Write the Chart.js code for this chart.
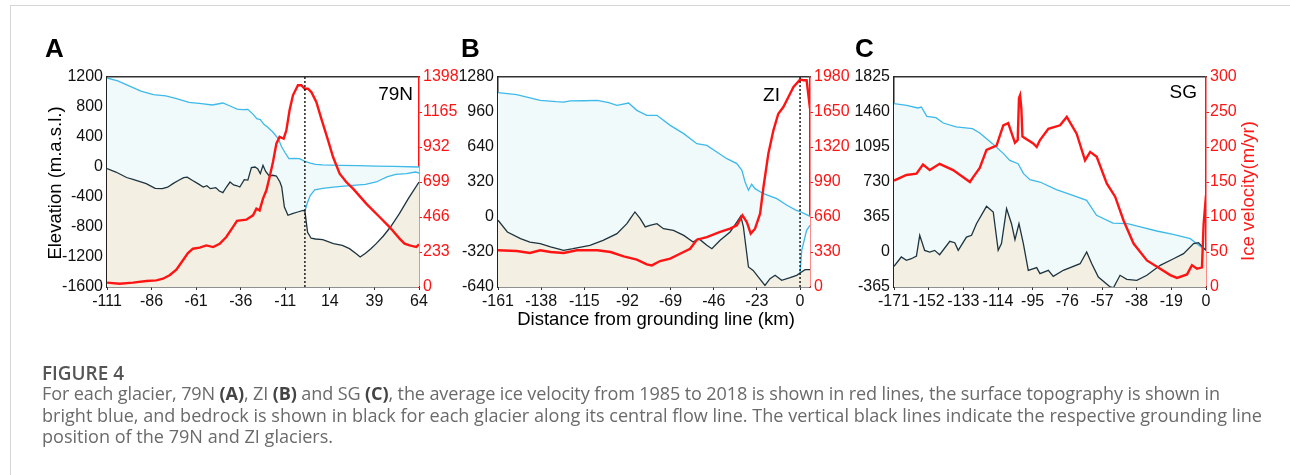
<!DOCTYPE html>
<html><head><meta charset="utf-8">
<script src="https://cdn.jsdelivr.net/npm/chart.js@4.4.1/dist/chart.umd.min.js"></script>
<style>
html,body{margin:0;padding:0;background:#fff;width:1290px;height:475px;overflow:hidden}
#frame{position:absolute;left:10px;top:5px;width:1300px;height:480px;border-top:1px solid #d6d6d6;border-left:1px solid #d6d6d6}
canvas{position:absolute;left:0;top:0}
svg{position:absolute;left:0;top:0}
</style></head><body>
<div id="frame"></div>
<canvas id="cA" width="1290" height="340"></canvas>
<canvas id="cB" width="1290" height="340"></canvas>
<canvas id="cC" width="1290" height="340"></canvas>
<svg width="1290" height="475" xmlns="http://www.w3.org/2000/svg">
  <g font-family="Liberation Sans, Arial, sans-serif" fill="#000">
    <text x="45" y="57" font-size="26" font-weight="bold">A</text>
    <text x="461" y="57" font-size="26" font-weight="bold">B</text>
    <text x="855" y="57" font-size="26" font-weight="bold">C</text>
    <text x="413" y="100" font-size="19" text-anchor="end">79N</text>
    <text x="780" y="101" font-size="19" text-anchor="end">ZI</text>
    <text x="1197" y="98" font-size="19" text-anchor="end">SG</text>
    <text transform="translate(61,183) rotate(-90)" font-size="18.5" text-anchor="middle">Elevation (m.a.s.l.)</text>
    <text x="656" y="325" font-size="18.5" text-anchor="middle">Distance from grounding line (km)</text>
    <text transform="translate(1254,191) rotate(-90)" font-size="18.5" text-anchor="middle" fill="#ff1a1a">Ice velocity(m/yr)</text>
  </g>
  <g font-family="Open Sans, sans-serif">
    <text id="fig" x="42" y="380" font-size="15" font-weight="600" fill="#555">FIGURE 4</text>
    <text class="cap" id="l1" x="42" y="400" font-size="15" fill="#6a6a6a">For each glacier, 79N <tspan font-weight="bold" fill="#444">(A)</tspan>, ZI <tspan font-weight="bold" fill="#444">(B)</tspan> and SG <tspan font-weight="bold" fill="#444">(C)</tspan>, the average ice velocity from 1985 to 2018 is shown in red lines, the surface topography is shown in</text>
    <text class="cap" id="l2" x="42" y="422" font-size="15" fill="#6a6a6a">bright blue, and bedrock is shown in black for each glacier along its central flow line. The vertical black lines indicate the respective grounding line</text>
    <text class="cap" id="l3" x="42" y="443" font-size="15" fill="#6a6a6a">position of the 79N and ZI glaciers.</text>
  </g>
</svg>
<script>
// ---------------- DATA ----------------
// Panel A (79N)
const aXTicks = [-111, -86, -61, -36, -11, 14, 39, 64];
const aYLTicks = [-1600, -1200, -800, -400, 0, 400, 800, 1200];
const aYRTicks = [0, 233, 466, 699, 932, 1165, 1398];
const aSurfKm = [-111, -105, -98, -92, -85, -78, -72, -65, -58, -52, -46, -42, -38, -35, -32, -29, -27, -25, -23, -21, -18, -15, -13, -11, -9, -6, -3, 0, 3, 6, 10, 20, 30, 40, 50, 64];
const aSurfElev = [1187, 1147, 1076, 1013, 964, 947, 911, 862, 844, 827, 853, 813, 773, 764, 769, 702, 644, 631, 569, 533, 467, 378, 267, 187, 111, 116, 111, 76, 53, 36, 27, 22, 18, 13, 9, 0];
const aBaseKm = [0, 1.5, 3, 5.5, 10, 16, 22, 27, 34, 40, 46, 51, 57, 62, 64];
const aBaseElev = [-590, -470, -380, -305, -285, -267, -255, -244, -231, -200, -133, -98, -89, -67, -80];
const aBedKm = [-111, -106, -100, -96, -89, -84, -80, -77, -74, -71, -68, -66, -63, -60, -57, -55, -53, -50, -48, -46, -44, -42, -40, -38, -36.5, -34, -32, -30, -28, -26.5, -25, -23.5, -22, -20, -18, -16, -14, -13, -11.5, -9.5, -7, -4, -1, 0, 1.5, 3.5, 6, 10, 16, 21, 25, 29, 31, 34, 37, 40, 44, 48, 53, 58, 64];
const aBedElev = [-22, -67, -140, -169, -222, -285, -289, -270, -222, -180, -142, -135, -180, -222, -267, -250, -289, -275, -320, -342, -267, -200, -240, -250, -267, -169, -175, -9, 0, -22, -89, 22, -60, -120, -110, -120, -200, -267, -533, -644, -622, -600, -578, -590, -870, -950, -960, -969, -1022, -1044, -1089, -1160, -1200, -1150, -1090, -1022, -920, -800, -622, -422, -200];
const aVelKm = [-111, -103.9, -96.4, -88.9, -83.3, -79.6, -75.9, -72.1, -68.4, -65.6, -62.8, -59, -55.3, -51.5, -47.8, -44.1, -40.3, -38.1, -32.9, -29.1, -27.2, -25.4, -23.5, -21.6, -19.8, -17.9, -16, -14.2, -11.9, -10.4, -8.6, -6.7, -3.9, -2, -0.1, 1.7, 3.6, 6.4, 9.2, 13, 15.8, 19.5, 23.2, 27, 34.4, 41.9, 47.5, 53.1, 55.9, 58.8, 62.5, 64];
const aVel = [29, 22, 29, 40, 44, 55, 78, 115, 178, 226, 255, 262, 277, 266, 288, 333, 400, 440, 448, 477, 521, 510, 588, 644, 732, 832, 954, 999, 987, 1043, 1176, 1276, 1343, 1343, 1320, 1320, 1298, 1232, 1121, 976, 865, 754, 699, 655, 555, 466, 399, 322, 289, 277, 266, 284];

// Panel B (ZI)
const bXTicks = [-161, -138, -115, -92, -69, -46, -23, 0];
const bYLTicks = [-640, -320, 0, 320, 640, 960, 1280];
const bYRTicks = [0, 330, 660, 990, 1320, 1650, 1980];
const bSurfKm = [-161, -151, -138.5, -130, -126, -122.5, -115, -108, -102, -97.6, -91.4, -87, -81.7, -76.3, -69.2, -62, -55, -49.7, -44.4, -39, -33.7, -31, -29.3, -27.5, -25.8, -24, -19.5, -12.4, -7, -2, 0, 5.3];
const bSurfElev = [1137, 1118, 1067, 1055, 1051, 1061, 1063, 1067, 1045, 1021, 1042, 975, 930, 930, 838, 762, 670, 655, 594, 533, 488, 427, 320, 244, 299, 259, 213, 168, 107, 61, 50, 6];
const bBaseKm = [0, 0.9, 3.5, 5.3];
const bBaseElev = [-512, -305, -122, -76];
const bBedKm = [-161, -156, -149, -144, -138.5, -133, -126, -121, -112, -105, -97.6, -92.3, -90.5, -88, -85.2, -82.5, -80, -76.3, -72.8, -67.5, -62, -57, -54, -49.7, -47, -42.6, -37.3, -33.7, -31.6, -30.2, -27.5, -25, -22.2, -18.7, -16, -13.3, -9.8, -5.3, -1.8, 0, 2.7, 5.3];
const bBedElev = [-30, -137, -198, -229, -244, -274, -305, -290, -259, -213, -152, -61, -15, 46, -15, -91, -76, -61, -107, -122, -168, -229, -198, -259, -290, -213, -137, -46, 9, -91, -457, -488, -549, -625, -564, -533, -579, -555, -533, -512, -482, -482];
const bVelKm = [-161, -151, -144, -138.5, -133, -126, -119, -108, -101, -94, -87, -81.7, -79, -74.6, -69.2, -64, -58.6, -55, -49.7, -42.6, -37.3, -33.7, -30.7, -28.4, -26.3, -24, -21.3, -19.5, -16.9, -14.2, -11.6, -8.9, -6.2, -3.5, 0, 1.8, 3.5, 5.3];
const bVel = [346, 339, 321, 346, 330, 321, 346, 346, 330, 289, 258, 214, 204, 245, 267, 314, 361, 446, 471, 519, 550, 581, 676, 613, 503, 550, 691, 943, 1257, 1477, 1634, 1697, 1791, 1886, 1955, 1949, 1949, 1681];

// Panel C (SG)
const cXTicks = [-171, -152, -133, -114, -95, -76, -57, -38, -19, 0];
const cYLTicks = [-365, 0, 365, 730, 1095, 1460, 1825];
const cYRTicks = [0, 50, 100, 150, 200, 250, 300];
const cSurfKm = [-171, -164, -158, -156, -153, -148, -144, -137, -128, -124, -117, -111, -107.5, -103, -100, -96.5, -91, -82, -73, -65.4, -60, -51, -43, -36, -27, -18, -8.6, -5, 0];
const cSurfElev = [1547, 1530, 1502, 1512, 1415, 1401, 1345, 1304, 1286, 1241, 1130, 1026, 956, 921, 817, 754, 730, 650, 591, 539, 383, 302, 295, 261, 219, 184, 139, 87, 17];
const cBedKm = [-171, -167, -164.2, -161.5, -158.7, -156.9, -154.2, -151.4, -148.7, -146, -140.4, -137.7, -135.8, -131.3, -128.5, -125.8, -120.3, -116.6, -113.9, -112.1, -109.3, -106.6, -104.7, -102.5, -100.1, -97.4, -92.8, -91, -86.4, -83.7, -78.2, -69, -65.4, -62.6, -59, -52.5, -50.7, -47.1, -43.4, -37.9, -32.4, -25.1, -17.8, -12.3, -6.8, -4.1, 0];
const cBedElev = [-149, -52, -87, -70, -42, 174, 17, 0, 17, -28, 111, 97, 17, 156, 174, 295, 476, 417, 17, 87, 452, 295, 128, 295, 87, -191, -163, -226, -191, -254, -191, -122, 0, -122, -261, -365, -372, -243, -285, -295, -243, -139, -70, -17, 87, 97, 17];
const cVelKm = [-171, -164.2, -158.7, -155.1, -151.4, -146, -138.6, -129.4, -127.6, -124, -120.3, -114.8, -111.1, -108.4, -104.7, -103.2, -102.5, -101.9, -101.2, -100.6, -94.7, -92.8, -91, -86.4, -80, -76.3, -70.9, -66.3, -63.5, -59.9, -54.4, -49.8, -45.2, -39.7, -32.4, -25.1, -19.6, -15.9, -10.4, -7.7, -4.9, -2.2, -1.3, 0];
const cVel = [152, 160, 162, 175, 167, 176, 167, 150, 157, 170, 196, 202, 231, 234, 206, 210, 270, 274, 255, 215, 205, 200, 210, 226, 231, 243, 219, 181, 193, 186, 148, 129, 95, 62, 38, 26, 17, 13, 18, 31, 26, 28, 90, 131];

// ---------------- STYLE / LAYOUT ----------------
const BLUE = '#3db9ea', DARK = '#1d3440', RED = '#ff1414';
const CYAN = '#f1fafb', BEIGE = '#f3f0e3';
const FONT = 'Liberation Sans, Arial, sans-serif';
const W = 1290, H = 340, YW = 50, XH = 32, TOP = 77, BOTTOM = 287;
const pts = (xs, ys) => xs.map((x, i) => ({x, y: ys[i]}));
const plain = v => String(v);

function makePanel(id, p) {
  const ds = [];
  ds.push({data: pts(p.surfKm, p.surfElev), yAxisID: 'yL', borderColor: BLUE, borderWidth: 1.3, fill: 'start', backgroundColor: CYAN, order: 4});
  if (p.baseKm) ds.push({data: pts(p.baseKm, p.baseElev), yAxisID: 'yL', borderColor: BLUE, borderWidth: 1.3, fill: 'start', backgroundColor: '#ffffff', order: 3});
  ds.push({data: pts(p.bedKm, p.bedElev), yAxisID: 'yL', borderColor: DARK, borderWidth: 1.3, fill: 'start', backgroundColor: BEIGE, order: 2});
  ds.push({data: pts(p.velKm, p.vel), yAxisID: 'yR', borderColor: RED, borderWidth: 2.4, fill: false, order: 1});
  if (p.grounding) {
    const yl = p.ylTicks;
    ds.push({data: [{x: 0, y: yl[0]}, {x: 0, y: yl[yl.length - 1]}], yAxisID: 'yL', borderColor: '#111', borderWidth: 1.4, borderDash: [2, 2], fill: false, order: 0});
  }
  const ticksFrom = arr => (s => { s.ticks = arr.map(v => ({value: v})); });
  const xmin = p.xTicks[0], xmax = p.xMax;
  new Chart(document.getElementById(id), {
    type: 'line',
    data: {datasets: ds},
    options: {
      responsive: false, animation: false,
      layout: {padding: {left: p.left - YW, right: W - p.right - YW, top: TOP, bottom: H - BOTTOM - XH}},
      plugins: {legend: {display: false}, tooltip: {enabled: false}, filler: {drawTime: 'beforeDatasetsDraw'}},
      elements: {point: {radius: 0}, line: {tension: 0}},
      scales: {
        x: {type: 'linear', position: 'bottom', min: xmin, max: xmax,
            afterBuildTicks: ticksFrom(p.xTicks), afterFit: s => { s.height = XH; },
            ticks: {autoSkip: false, maxRotation: 0, minRotation: 0, color: '#111', font: {family: FONT, size: 16}, padding: 2, callback: plain},
            grid: {display: true, drawOnChartArea: false, drawTicks: true, tickLength: 3, color: '#333'},
            border: {display: true, color: '#222', width: 1.5}},
        xTop: {type: 'linear', position: 'top', min: xmin, max: xmax,
            afterFit: s => { s.height = 0; },
            ticks: {display: false}, grid: {display: false, drawTicks: false},
            border: {display: true, color: '#333', width: 1.5}},
        yL: {type: 'linear', position: 'left', min: p.ylTicks[0], max: p.ylTicks[p.ylTicks.length - 1],
            afterBuildTicks: ticksFrom(p.ylTicks), afterFit: s => { s.width = YW; },
            ticks: {autoSkip: false, color: '#111', font: {family: FONT, size: 16}, padding: 4, callback: plain},
            grid: {display: false, drawTicks: false},
            border: {display: true, color: '#222', width: 1.5}},
        yR: {type: 'linear', position: 'right', min: p.yrTicks[0], max: p.yrTicks[p.yrTicks.length - 1],
            afterBuildTicks: ticksFrom(p.yrTicks), afterFit: s => { s.width = YW; },
            ticks: {autoSkip: false, color: RED, font: {family: FONT, size: 16}, padding: 1, callback: plain},
            grid: {display: true, drawOnChartArea: false, drawTicks: true, tickLength: 3,
                   color: c => (c.index === 0 || c.index === p.yrTicks.length - 1) ? 'rgba(0,0,0,0)' : RED},
            border: {display: true, color: RED, width: 1.5}}
      }
    }
  });
}

makePanel('cA', {left: 107, right: 419, xTicks: aXTicks, xMax: 64, ylTicks: aYLTicks, yrTicks: aYRTicks,
  surfKm: aSurfKm, surfElev: aSurfElev, baseKm: aBaseKm, baseElev: aBaseElev, bedKm: aBedKm, bedElev: aBedElev,
  velKm: aVelKm, vel: aVel, grounding: true});
makePanel('cB', {left: 498, right: 810, xTicks: bXTicks, xMax: 5.3, ylTicks: bYLTicks, yrTicks: bYRTicks,
  surfKm: bSurfKm, surfElev: bSurfElev, baseKm: bBaseKm, baseElev: bBaseElev, bedKm: bBedKm, bedElev: bBedElev,
  velKm: bVelKm, vel: bVel, grounding: true});
makePanel('cC', {left: 894, right: 1206, xTicks: cXTicks, xMax: 0, ylTicks: cYLTicks, yrTicks: cYRTicks,
  surfKm: cSurfKm, surfElev: cSurfElev, bedKm: cBedKm, bedElev: cBedElev,
  velKm: cVelKm, vel: cVel, grounding: false});

// fit caption lines to the reference widths
const l2 = document.getElementById('l2');
const fs = 15 * (1262 - 42) / l2.getComputedTextLength();
document.querySelectorAll('.cap').forEach(t => t.setAttribute('font-size', fs.toFixed(2)));
document.getElementById('l1').setAttribute('textLength', 1220 - 42);
l2.setAttribute('textLength', 1262 - 42);
const fig = document.getElementById('fig');
fig.setAttribute('font-size', (15 * 82 / fig.getComputedTextLength()).toFixed(2));
</script>
</body></html>
